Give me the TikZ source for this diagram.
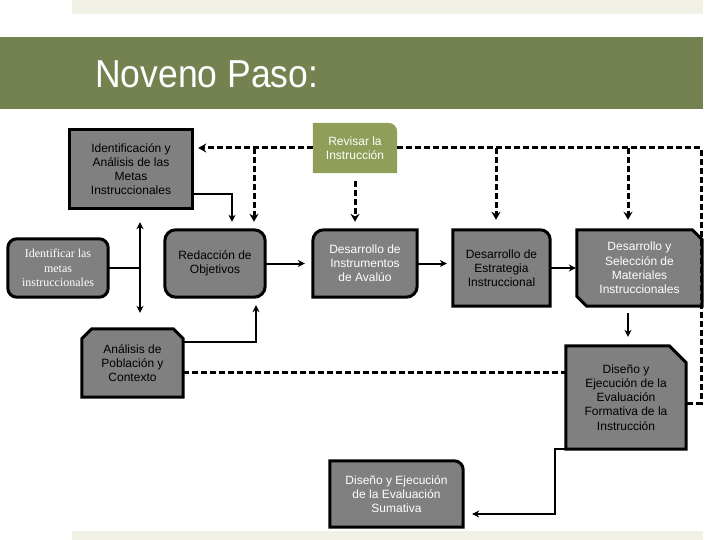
\documentclass[tikz,border=0pt]{standalone}
\usepackage{fontspec}
\setmainfont{Liberation Sans}
\newfontfamily\serifx{Liberation Serif}
\usetikzlibrary{arrows.meta,backgrounds}
\definecolor{beige}{RGB}{240,240,228}
\definecolor{banner}{RGB}{116,130,80}
\definecolor{revgreen}{RGB}{143,158,88}
\definecolor{boxgray}{RGB}{128,128,128}
\begin{document}
\begin{tikzpicture}[x=1pt,y=-1pt,
  slot/.style={draw=none,inner sep=0pt,align=center,
    font=\fontsize{12}{14.2}\selectfont},
  wtxt/.style={text=white},
  btxt/.style={text=black},
  frame/.style={draw=black,line width=3pt,fill=boxgray,line join=miter},
  conn/.style={draw=black,line width=2pt,-{Stealth[length=7pt,width=7pt]}},
  plain/.style={draw=black,line width=2pt},
  dasharrow/.style={draw=black,line width=3pt,dash pattern=on 6pt off 3pt,
    -{Stealth[length=8pt,width=9pt]}},
  dashline/.style={draw=black,line width=3pt,dash pattern=on 6pt off 3pt}]
\useasboundingbox (0,0) rectangle (720,540);
% background bands
\fill[beige] (72,0) rectangle (703,14);
\fill[beige] (72,531) rectangle (703,540);
\fill[banner] (0,37) rectangle (703,109);
\node[anchor=base west,text=white,inner sep=0pt,
  font=\fontsize{39}{44}\selectfont] (title) at (95,88)
  {\scalebox{0.91}[1]{Noveno Paso:}};

% nodes
\node[slot,btxt,minimum width=122pt,minimum height=78pt] (ident) at (131,169)
  {Identificación y\\Análisis de las\\Metas\\Instruccionales};
\node[slot,wtxt,minimum width=84pt,minimum height=50pt] (revisar) at (355,148)
  {Revisar la\\Instrucción};
\node[slot,wtxt,minimum width=100pt,minimum height=58pt,
  font=\serifx\fontsize{12}{14.5}\selectfont] (identificar) at (58,268)
  {Identificar las\\metas\\instruccionales};
\node[slot,btxt,minimum width=100pt,minimum height=67pt] (redaccion) at (215,263.5)
  {Redacción de\\Objetivos};
\node[slot,wtxt,minimum width=104pt,minimum height=67pt] (instr) at (365,263.5)
  {Desarrollo de\\Instrumentos\\de Avalúo};
\node[slot,btxt,minimum width=97pt,minimum height=76pt] (estr) at (501.5,268)
  {Desarrollo de\\Estrategia\\Instruccional};
\node[slot,wtxt,minimum width=125pt,minimum height=76pt] (mat) at (639.5,268)
  {Desarrollo y\\Selección de\\Materiales\\Instruccionales};
\node[slot,btxt,minimum width=101pt,minimum height=68pt] (anal) at (132.5,363)
  {Análisis de\\Población y\\Contexto};
\node[slot,btxt,minimum width=120pt,minimum height=103pt] (form) at (626,397.5)
  {Diseño y\\Ejecución de la\\Evaluación\\Formativa de la\\Instrucción};
\node[slot,wtxt,minimum width=133pt,minimum height=66pt] (sum) at (396.5,494)
  {Diseño y Ejecución\\de la Evaluación\\Sumativa};

% shapes behind the texts
\begin{pgfonlayer}{background}
\draw[frame] (ident.south west) rectangle (ident.north east);
\fill[revgreen] (revisar.south west) -- (revisar.north west)
  [rounded corners=9pt] -- (revisar.north east) [sharp corners]
  -- (revisar.south east) -- cycle;
\draw[frame,rounded corners=9pt] (identificar.south west) rectangle (identificar.north east);
\draw[frame,rounded corners=11pt] (redaccion.south west) rectangle (redaccion.north east);
\draw[frame] (instr.south west) [rounded corners=11pt] -- (instr.north west)
  [sharp corners] -- (instr.north east) [rounded corners=11pt] -- (instr.south east)
  [sharp corners] -- cycle;
\draw[frame] (estr.south west) -- (estr.north west) [rounded corners=10pt]
  -- (estr.north east) [sharp corners] -- (estr.south east) -- cycle;
\draw[frame] ([yshift=10pt]mat.south west) -- (mat.north west)
  -- ([xshift=-10pt]mat.north east) -- ([yshift=-10pt]mat.north east)
  -- (mat.south east) -- ([xshift=10pt]mat.south west) -- cycle;
\draw[frame] (anal.south west) -- ([yshift=-10pt]anal.north west)
  -- ([xshift=10pt]anal.north west) -- ([xshift=-10pt]anal.north east)
  -- ([yshift=-10pt]anal.north east) -- (anal.south east) -- cycle;
\draw[frame] (form.south west) -- (form.north west)
  -- ([xshift=-17pt]form.north east) -- ([yshift=-17pt]form.north east)
  -- (form.south east) -- cycle;
\draw[frame] (sum.south west) -- (sum.north west) [rounded corners=9pt]
  -- (sum.north east) [sharp corners] -- (sum.south east) -- cycle;
\end{pgfonlayer}

% named bend points
\coordinate (rc) at (701,403);
\coordinate (fc) at (555,514);

% solid connectors
\draw[conn,shorten >=8pt] (ident.east |- 0,194) -| (232,0 |- redaccion.north);
\draw[plain] (identificar.east) -- (140,0 |- identificar.east);
\draw[conn,{Stealth[length=7pt,width=7pt]}-{Stealth[length=7pt,width=7pt]},
  shorten <=14pt,shorten >=16pt] (140,0 |- ident.south) -- (140,0 |- anal.north);
\draw[conn,shorten >=8pt] (anal.east |- 0,342) -| (256,0 |- redaccion.south);
\draw[conn,shorten >=8pt] (redaccion.east) -- (instr.west |- redaccion.east);
\draw[conn,shorten >=6pt] (instr.east) -- (estr.west |- instr.east);
\draw[conn,shorten >=1pt] (estr.east) -- (mat.west |- estr.east);
\draw[conn,shorten <=7pt,shorten >=9pt] (628,0 |- mat.south) -- (628,0 |- form.north);
\draw[conn,shorten >=9pt] (form.south west) -| (fc) -- (sum.east |- fc);

% dashed feedback connectors
\draw[dasharrow,shorten >=6pt] (revisar.west) -- (ident.east |- revisar.west);
\draw[dasharrow,shorten >=8pt] (254,0 |- revisar.west) -- (254,0 |- redaccion.north);
\draw[dasharrow,shorten <=8pt,shorten >=8pt] (revisar.south) -- (revisar.south |- instr.north);
\draw[dashline] (revisar.east) -| (rc) -- (form.east |- rc);
\draw[dasharrow,shorten >=10pt] (496,0 |- revisar.east) -- (496,0 |- estr.north);
\draw[dasharrow,shorten >=10pt] (628,0 |- revisar.east) -- (628,0 |- mat.north);
\draw[dashline] (anal.east |- 0,372) -- (form.west |- 0,372);
\end{tikzpicture}
\end{document}
